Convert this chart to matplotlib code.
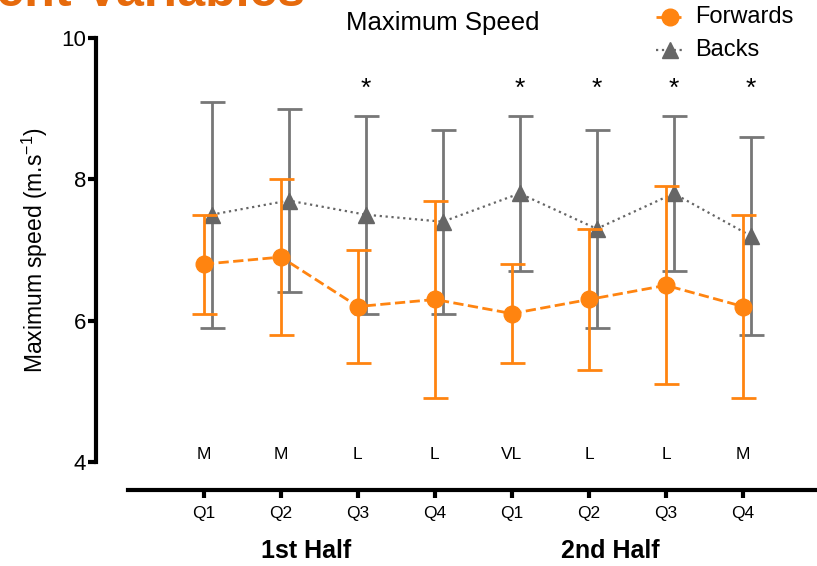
import matplotlib.pyplot as plt
from matplotlib.transforms import blended_transform_factory

quarters = ["Q1", "Q2", "Q3", "Q4", "Q1", "Q2", "Q3", "Q4"]
effects = ["M", "M", "L", "L", "VL", "L", "L", "M"]
signif = ["", "", "*", "", "*", "*", "*", "*"]

fwd_mean = [6.8, 6.9, 6.2, 6.3, 6.1, 6.3, 6.5, 6.2]
fwd_low = [6.1, 5.8, 5.4, 4.9, 5.4, 5.3, 5.1, 4.9]
fwd_high = [7.5, 8.0, 7.0, 7.7, 6.8, 7.3, 7.9, 7.5]

back_mean = [7.5, 7.7, 7.5, 7.4, 7.8, 7.3, 7.8, 7.2]
back_low = [5.9, 6.4, 6.1, 6.1, 6.7, 5.9, 6.7, 5.8]
back_high = [9.1, 9.0, 8.9, 8.7, 8.9, 8.7, 8.9, 8.6]

plt.rcParams['font.family'] = ['Liberation Sans', 'DejaVu Sans']

orange = '#ff8410'
grey = '#666666'

fig = plt.figure(figsize=(8.17, 5.66), dpi=100)
ax = fig.add_axes([96 / 817, 104 / 566, 721 / 817, 424 / 566])

x = list(range(len(quarters)))
xb = [i + 0.1 for i in x]

# backs first, forwards on top
ax.errorbar(xb, back_mean,
            yerr=[[m - l for m, l in zip(back_mean, back_low)],
                  [h - m for m, h in zip(back_mean, back_high)]],
            fmt='^', color=grey, ms=12, ecolor='#777777', elinewidth=2,
            capsize=9, capthick=2, zorder=2)
ax.plot(xb, back_mean, ':', color=grey, lw=1.6, zorder=2)

ax.errorbar(x, fwd_mean,
            yerr=[[m - l for m, l in zip(fwd_mean, fwd_low)],
                  [h - m for m, h in zip(fwd_mean, fwd_high)]],
            fmt='o', color=orange, ms=12, elinewidth=2,
            capsize=9, capthick=2, zorder=3)
ax.plot(x, fwd_mean, '--', color=orange, lw=2, zorder=3)

ax.set_xlim(-1.4, 7.96)
ax.set_ylim(4, 10)
ax.set_yticks([4, 6, 8, 10])
ax.set_xticks(x)
ax.set_xticklabels(quarters)
ax.tick_params(axis='y', labelsize=16, width=3, length=6, direction='out', pad=1)
ax.tick_params(axis='x', labelsize=12.5, width=3, length=6, direction='out', pad=6)

for s in ['top', 'right']:
    ax.spines[s].set_visible(False)
ax.spines['left'].set_linewidth(3)
ax.spines['bottom'].set_linewidth(3)
ax.spines['bottom'].set_position(('outward', 20))
ax.spines['bottom'].set_bounds(-0.99, 7.96)

ax.set_ylabel('Maximum speed (m.s$^{\\mathregular{-1}}$)', fontsize=16.5, labelpad=8)

for i in x:
    ax.text(i, 4.1, effects[i], ha='center', va='center', fontsize=12.5)
    if signif[i]:
        ax.text(i + 0.1, 9.28, signif[i], ha='center', va='center', fontsize=19)

trans = blended_transform_factory(ax.transData, fig.transFigure)
ax.text(1.33, 1 - 551 / 566, '1st Half', transform=trans, ha='center', va='center',
        fontsize=18, fontweight='bold')
ax.text(5.28, 1 - 551 / 566, '2nd Half', transform=trans, ha='center', va='center',
        fontsize=18, fontweight='bold')

fig.text(443 / 817, 1 - 23 / 566, 'Maximum Speed', ha='center', va='center', fontsize=18.5)
fig.text(305 / 817, 1 - 6 / 566, 'Movement Variables', ha='right', va='baseline',
         fontsize=36, fontweight='bold', color='#e66a0c')

# legend drawn by hand in the top right
lx = 670 / 817
for yy, ls, lw, mk, col in [(17, '--', 2, 'o', orange), (50, ':', 1.6, '^', grey)]:
    ax.plot([lx - 0.017, lx + 0.017], [1 - yy / 566] * 2, ls, color=col, lw=lw,
            transform=fig.transFigure, clip_on=False)
    ax.plot([lx], [1 - yy / 566], mk, color=col, ms=12, transform=fig.transFigure,
            clip_on=False)
fig.text(695 / 817, 1 - 17 / 566, 'Forwards', va='center', fontsize=17)
fig.text(695 / 817, 1 - 50 / 566, 'Backs', va='center', fontsize=17)

fig.savefig('out.png', dpi=100)
